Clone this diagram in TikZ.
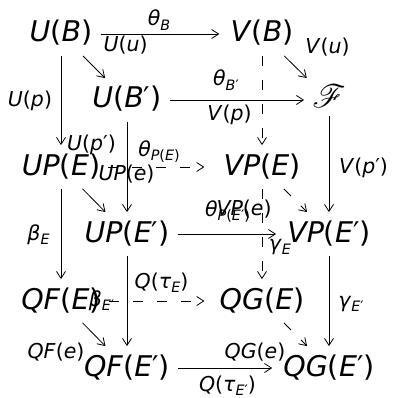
\documentclass[tikz,border=0pt]{standalone}
\usepackage{fontspec}
\setmainfont{DejaVu Sans}
\usepackage{mathrsfs}
\usetikzlibrary{arrows.meta}
\newcommand\I[1]{\textit{#1}}
\newcommand\sbs[1]{\raisebox{-0.2em}{\scalebox{0.7}{#1}}}
\begin{document}
\begin{tikzpicture}[x=1pt,y=-1pt,
  obj/.style={font=\fontsize{28.5pt}{34pt}\selectfont, text height=21.7pt, text depth=5.7pt, inner xsep=8pt, inner ysep=8pt},
  lab/.style={font=\fontsize{20.5pt}{24pt}\selectfont, inner sep=0pt, anchor=base},
  arr/.style={-{Straight Barb[length=7pt,width=9pt]}, line width=0.8pt},
  dsh/.style={arr, dash pattern=on 10pt off 14pt}]
\useasboundingbox (0,0) rectangle (392,398);
% objects
\node[obj] (UB) at (61,34) {\I{U}(\I{B})};
\node[obj] (VB) at (262,34) {\I{V}(\I{B})};
\node[obj] (UBp) at (127,100) {\I{U}(\I{B}′)};
\node[obj] (F) at (329,100) {\scalebox{1.3}{$\mathscr{F}$}};
\node[obj] (UPE) at (61,167) {\I{UP}(\I{E})};
\node[obj] (VPE) at (262,167) {\I{VP}(\I{E})};
\node[obj] (UPEp) at (127,234) {\I{UP}(\I{E}′)};
\node[obj] (VPEp) at (329,234) {\I{VP}(\I{E}′)};
\node[obj] (QFE) at (61,301) {\I{QF}(\I{E})};
\node[obj] (QGE) at (262,301) {\I{QG}(\I{E})};
\node[obj] (QFEp) at (127,368) {\I{QF}(\I{E}′)};
\node[obj] (QGEp) at (329,368) {\I{QG}(\I{E}′)};
% solid arrows
\draw[arr, shorten >=3pt] (UB) -- (VB);
\draw[arr] (UB) -- (UBp);
\draw[arr] (UB) -- (UPE);
\draw[arr] (VB) -- (F);
\draw[arr] (UBp) -- (F);
\draw[arr] (UBp) -- (UPEp);
\draw[arr, shorten <=-6pt] (F) -- (VPEp);
\draw[arr] (UPE) -- (UPEp);
\draw[arr] (UPE) -- (QFE);
\draw[arr, shorten >=3pt] (UPEp) -- (VPEp);
\draw[arr] (UPEp) -- (QFEp);
\draw[arr] (VPEp) -- (QGEp);
\draw[arr] (QFE) -- (QFEp);
\draw[arr, shorten >=3pt] (QFEp) -- (QGEp);
% dashed arrows
\draw[dsh] (VB) -- (VPE);
\draw[dsh, shorten >=11pt] (UPE) -- (VPE);
\draw[dsh] (VPE) -- (VPEp);
\draw[dsh] (VPE) -- (QGE);
\draw[dsh, shorten >=7pt] (QFE) -- (QGE);
\draw[dsh] (QGE) -- (QGEp);
% labels
\node[lab] (l1) at (159,26) {\I{θ}\sbs{\I{B}}};
\node[lab] (l2) at (125.5,52) {\I{U}(\I{u})};
\node[lab] (l3) at (30,107) {\I{U}(\I{p})};
\node[lab] (l4) at (91.5,150) {\I{U}(\I{p}′)};
\node[lab] (l5) at (226,86) {\I{θ}\sbs{\I{B}′}};
\node[lab] (l6) at (229.5,121) {\I{V}(\I{p})};
\node[lab] (l7) at (327.5,54) {\I{V}(\I{u})};
\node[lab] (l8) at (159,156) {\I{θ}\sbs{\I{P}(\I{E})}};
\node[lab] (l9) at (126.5,180) {\I{UP}(\I{e})};
\node[lab] (l10) at (363.5,173) {\I{V}(\I{p}′)};
\node[lab] (l11) at (227.5,216) {\I{θ}\sbs{\I{P}(\I{E}′)}};
\node[lab] (l12) at (244,215) {\I{VP}(\I{e})};
\node[lab] (l13) at (280,250) {\I{γ}\sbs{\I{E}}};
\node[lab] (l14) at (351,307) {\I{γ}\sbs{\I{E}′}};
\node[lab] (l15) at (38.5,240) {\I{β}\sbs{\I{E}}};
\node[lab] (l16) at (101.5,306) {\I{β}\sbs{\I{E}′}};
\node[lab] (l17) at (161.5,288) {\I{Q}(\I{τ}\sbs{\I{E}})};
\node[lab] (l18) at (56,358) {\I{QF}(\I{e})};
\node[lab] (l19) at (255,358) {\I{QG}(\I{e})};
\node[lab] (l20) at (227.5,391) {\I{Q}(\I{τ}\sbs{\I{E}′})};
\end{tikzpicture}
\end{document}
